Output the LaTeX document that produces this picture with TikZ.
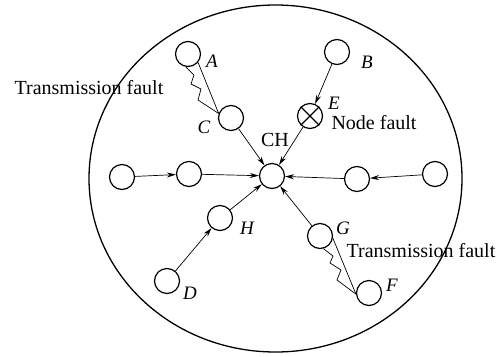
\documentclass[tikz,border=0pt]{standalone}
\usepackage{fontspec}
\setmainfont{Liberation Serif}
\usetikzlibrary{arrows.meta}
\begin{document}
\begin{tikzpicture}[x=1pt,y=-1pt,
  nd/.style={circle,draw,line width=1.2pt,minimum size=25pt,inner sep=0pt},
  arr/.style={line width=0.7pt,-{Stealth[length=9pt,width=5pt]}},
  lnk/.style={line width=0.7pt},
  lbl/.style={font=\fontsize{19}{20}\selectfont\itshape,inner sep=0pt},
  txt/.style={font=\fontsize{20}{22}\selectfont,inner sep=0pt}]
\useasboundingbox (0,0) rectangle (502,356);
\draw[line width=1.3pt] (275.5,178.5) ellipse [x radius=186.5, y radius=173.5];
\node[nd] (A) at (188,54) {};
\node[nd] (B) at (337,52) {};
\node[nd] (C) at (231,118) {};
\node[nd] (E) at (310,116) {};
\node[nd] (CH) at (272,176) {};
\node[nd] (L1) at (122,177) {};
\node[nd] (L2) at (189,174) {};
\node[nd] (R1) at (357,179) {};
\node[nd] (R2) at (435,174) {};
\node[nd] (H) at (220,218) {};
\node[nd] (G) at (320,236) {};
\node[nd] (D) at (167,281) {};
\node[nd] (F) at (369,293) {};
\draw[line width=1.2pt] (E.north west) -- (E.south east) (E.north east) -- (E.south west);
% arrows
\draw[arr] (L1) -- (L2);
\draw[arr] (L2) -- (CH);
\draw[arr] (R2) -- (R1);
\draw[arr] (R1) -- (CH);
\draw[arr] (C) -- (CH);
\draw[arr] (B) -- (E);
\draw[arr] (E) -- (CH);
\draw[arr] (D) -- (H);
\draw[arr] (H) -- (CH);
\draw[arr] (G) -- (CH);
% transmission faults
\draw[lnk] (A.-40) -- (C.160);
\draw[lnk] (A.-100) -- (194,75) -- (191,84) -- (201,89) -- (198,100) -- (C.160);
\draw[lnk] (G.-10) -- (F.185);
\draw[lnk] (G.-75) -- (333,256) -- (330,263) -- (341,270) -- (337,280) -- (F.185);
% labels
\node[lbl] (lA) at (212,61) {A};
\node[lbl] (lB) at (367,62) {B};
\node[lbl] (lC) at (204,127) {C};
\node[lbl] (lE) at (334,103) {E};
\node[lbl] (lH) at (247,228) {H};
\node[lbl] (lG) at (343,228) {G};
\node[lbl] (lD) at (190,293) {D};
\node[lbl] (lF) at (392,285) {F};
\node[txt] (tCH) at (275,140) {CH};
\node[txt] (tNF) at (374,123) {Node fault};
\node[txt] (tT1) at (89,88) {Transmission fault};
\node[txt] (tT2) at (421,251) {Transmission fault};
\end{tikzpicture}
\end{document}
